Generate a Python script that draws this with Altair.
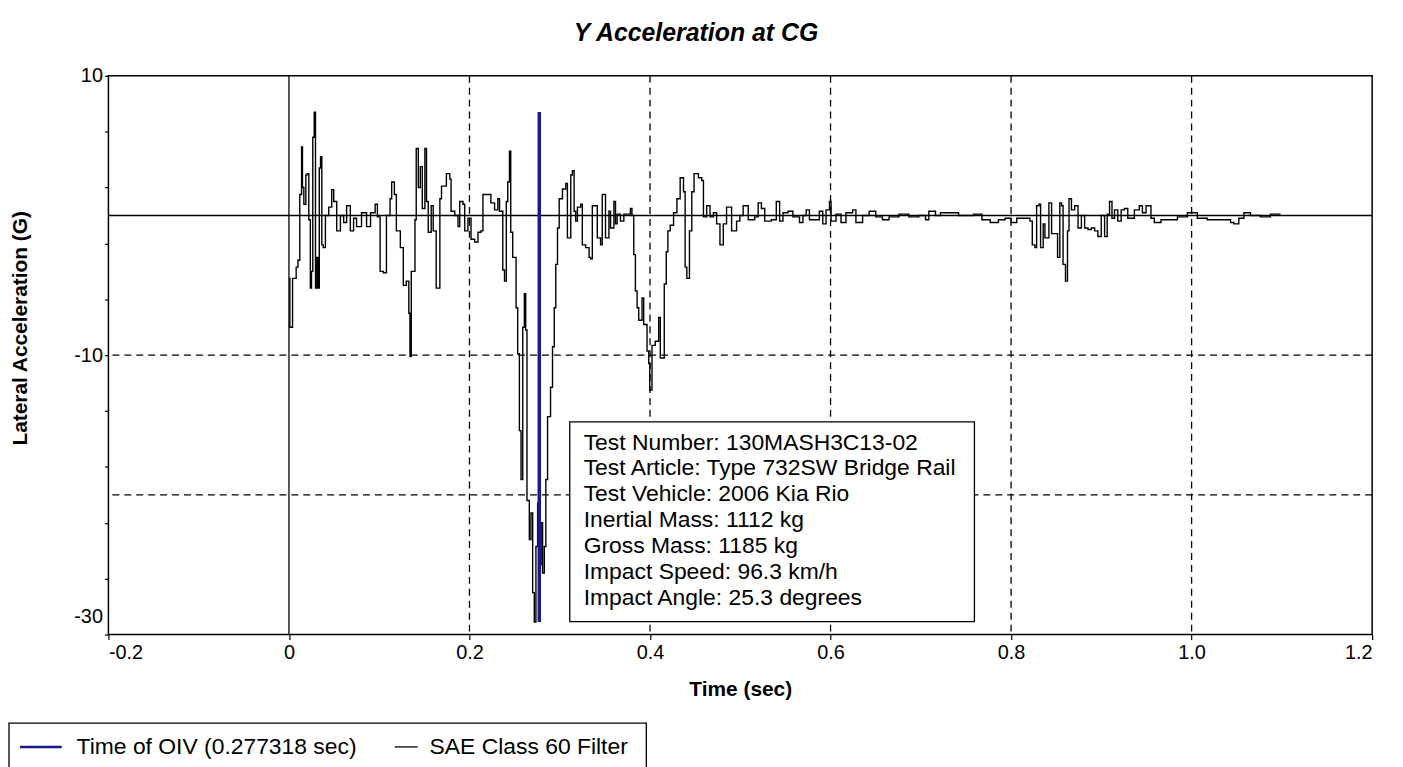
import altair as alt
import pandas as pd

# ---- data ----
time_s = [
    0.000, 0.001, 0.003, 0.004, 0.008, 0.010, 0.012, 0.014, 0.015, 0.0165,
    0.0187, 0.020, 0.022, 0.0237, 0.025, 0.0264, 0.028, 0.0294, 0.031, 0.0325,
    0.0336, 0.035, 0.0364, 0.038, 0.0404, 0.0441, 0.0474, 0.0496, 0.0529, 0.057,
    0.0606, 0.0639, 0.068, 0.0716, 0.0749, 0.0804, 0.086, 0.0904, 0.0955, 0.098,
    0.101, 0.1047, 0.108, 0.112, 0.1138, 0.1168, 0.119, 0.1234, 0.1267, 0.130,
    0.1328, 0.1341, 0.1355, 0.1396, 0.141, 0.1433, 0.1455, 0.1477, 0.1506, 0.1524,
    0.1543, 0.1576, 0.1598, 0.1631, 0.1672, 0.169, 0.1744, 0.1782, 0.1796, 0.1837,
    0.1873, 0.1892, 0.1928, 0.1947, 0.1983, 0.2017, 0.2057, 0.2094, 0.2127, 0.2149,
    0.2204, 0.2237, 0.2278, 0.2314, 0.2333, 0.2369, 0.2388, 0.2408, 0.2424, 0.2443,
    0.2457, 0.2479, 0.2498, 0.2516, 0.2534, 0.2553, 0.2571, 0.259, 0.2608, 0.2623,
    0.2637, 0.2663, 0.2681, 0.270, 0.2718, 0.2736, 0.2755, 0.2777, 0.2793, 0.281,
    0.2829, 0.2846, 0.2865, 0.2898, 0.292, 0.2939, 0.2956, 0.2975, 0.2994, 0.303,
    0.3067, 0.3085, 0.3122, 0.314, 0.3159, 0.3177, 0.3196, 0.3232, 0.325, 0.3287,
    0.3325, 0.3342, 0.3361, 0.3397, 0.3416, 0.3452, 0.3471, 0.349, 0.3507, 0.3545,
    0.3563, 0.360, 0.3618, 0.3636, 0.3673, 0.371, 0.3747, 0.3783, 0.380, 0.382,
    0.3838, 0.3857, 0.3875, 0.3912, 0.393, 0.3967, 0.3986, 0.3997, 0.4022, 0.4058,
    0.4096, 0.4114, 0.4143, 0.4158, 0.418, 0.4198, 0.4224, 0.4261, 0.4298, 0.4334,
    0.4371, 0.4389, 0.4408, 0.4437, 0.4463, 0.4488, 0.4536, 0.4573, 0.4592, 0.4628,
    0.4665, 0.4702, 0.4738, 0.4775, 0.4812, 0.4848, 0.4904, 0.4959, 0.4995, 0.5032,
    0.5088, 0.516, 0.5198, 0.5234, 0.5271, 0.5344, 0.5399, 0.5436, 0.5473, 0.5528,
    0.5583, 0.5656, 0.5694, 0.573, 0.5766, 0.5876, 0.5914, 0.595, 0.5988, 0.6006,
    0.6061, 0.6116, 0.6171, 0.6245, 0.6281, 0.6355, 0.6428, 0.6501, 0.6575, 0.6648,
    0.6758, 0.6868, 0.6979, 0.7052, 0.7089, 0.7163, 0.7218, 0.7309, 0.7419, 0.7584,
    0.7677, 0.7769, 0.786, 0.7934, 0.800, 0.8063, 0.8154, 0.8209, 0.8235, 0.8264,
    0.8283, 0.8309, 0.8327, 0.8356, 0.8375, 0.8419, 0.8449, 0.8485, 0.8515, 0.854,
    0.8559, 0.8576, 0.8603, 0.8625, 0.8642, 0.8669, 0.8705, 0.8742, 0.8779, 0.8815,
    0.8852, 0.8889, 0.8926, 0.8962, 0.8999, 0.9036, 0.9065, 0.9091, 0.9118, 0.9146,
    0.9182, 0.922, 0.9256, 0.9293, 0.9366, 0.9421, 0.9455, 0.9495, 0.955, 0.9587,
    0.9661, 0.9733, 0.9843, 0.9954, 1.0009, 1.0064, 1.0174, 1.0284, 1.0432, 1.0468,
    1.0523, 1.0579, 1.0652, 1.0762, 1.0873, 1.0946, 1.0986,
]
accel_g = [
    -4.5, -8.0, -8.0, -4.5, -3.7, -3.2, 1.5, 4.9, 2.0, 0.8,
    2.9, 3.0, -0.3, -5.2, -4.0, 5.6, 7.4, -5.2, -3.0, -5.2,
    3.4, 4.2, -2.1, -2.3, 0.0, 0.6, 1.85, 1.0, -1.1, 0.0,
    -0.5, 0.7, -1.1, -0.2, -0.8, 0.2, -0.8, 0.2, 0.8, -0.1,
    -4.0, -4.1, 0.0, 1.2, 2.4, 1.5, -1.1, -2.3, -5.0, -4.7,
    -7.0, -10.1, -4.0, -0.3, 4.8, 2.0, 3.5, 0.5, 4.8, 1.0,
    -1.2, 0.7, -1.1, -5.2, 1.2, 2.1, 3.0, 2.6, 0.3, 0.0,
    -0.8, 1.0, 0.8, -1.1, -0.2, -1.7, -1.9, -1.2, -1.1, 1.5,
    1.5, 0.9, 0.4, 1.2, 0.3, -3.9, -4.7, 1.0, 2.4, 4.6,
    -1.2, -3.0, -3.0, -6.6, -9.9, -15.4, -18.9, -8.0, -5.6, -8.2,
    -20.4, -23.2, -21.3, -27.0, -29.1, -23.7, -20.6, -25.0, -22.0, -25.6,
    -23.7, -18.9, -14.4, -12.3, -9.4, -6.6, -3.5, -0.9, 1.2, 1.9,
    2.3, -1.6, 2.9, 3.2, 0.3, -0.4, 0.6, 0.8, -2.1, -2.3,
    -3.0, -3.1, 0.7, 0.7, -1.6, -2.1, 1.5, 1.5, -1.6, 0.3,
    -0.9, 1.0, -0.6, 0.1, -0.4, 0.1, 0.1, 0.5, 0.0, -2.8,
    -5.4, -6.6, -7.5, -5.9, -7.8, -9.7, -10.6, -12.5, -9.3, -9.0,
    -7.3, -10.2, -10.2, -4.9, -2.6, -1.1, -0.7, 0.2, 1.2, 2.7,
    1.7, -3.7, -4.5, -1.1, 1.7, 3.0, 2.7, 2.5, -0.1, 0.7,
    -0.1, 0.2, -0.6, -2.1, -0.6, 0.6, -1.1, -0.4, 0.0, 0.7,
    -0.3, -0.1, 0.9, 0.5, -0.4, -0.3, 1.0, -0.4, 0.2, 0.3,
    -0.1, -0.5, 0.0, 0.4, -0.3, 0.3, -0.6, 0.4, 1.0, -0.4,
    0.1, -0.5, 0.2, 0.4, -0.5, 0.0, 0.3, -0.1, -0.3, -0.1,
    0.1, -0.1, 0.0, -0.3, 0.3, 0.0, 0.2, 0.2, 0.0, 0.1,
    -0.3, -0.5, -0.3, -0.2, -0.5, -0.2, -0.2, -0.4, -2.1, -2.3,
    0.7, 0.8, -2.3, -0.6, -1.6, 0.9, -1.3, -1.3, -3.0, 0.9,
    0.7, -3.5, -4.7, -1.1, 1.2, 0.4, 0.7, -0.9, 0.0, -0.9,
    -1.0, -0.9, -1.1, -1.5, 0.0, -1.5, 0.1, 1.0, -0.2, 0.4,
    -0.4, 0.4, 0.5, -0.2, 0.4, 0.7, 0.2, 0.7, -0.2, -0.5,
    -0.3, -0.3, -0.1, 0.2, 0.2, -0.2, -0.3, -0.3, -0.5, -0.6,
    -0.2, 0.2, 0.0, -0.1, 0.1, 0.1, 0.1,
]
oiv_time = 0.277318
v_grid = [0.2, 0.4, 0.6, 0.8, 1.0]
h_grid = [-10, -20]
x_ticks = [-0.2, 0.0, 0.2, 0.4, 0.6, 0.8, 1.0, 1.2]
y_ticks = list(range(-30, 11, 2))
info_lines = [
    "Test Number: 130MASH3C13-02",
    "Test Article: Type 732SW Bridge Rail",
    "Test Vehicle: 2006 Kia Rio",
    "Inertial Mass: 1112 kg",
    "Gross Mass: 1185 kg",
    "Impact Speed: 96.3 km/h",
    "Impact Angle: 25.3 degrees",
]
legend_labels = ["Time of OIV (0.277318 sec)", "SAE Class 60 Filter"]

FONT = "Liberation Sans"
W, H = 1271, 562
NAVY = "#1a1a8e"

df = pd.DataFrame({"t": time_s, "g": accel_g})

xscale = alt.Scale(domain=[-0.2, 1.2], nice=False, zero=False)
yscale = alt.Scale(domain=[-30, 10], nice=False, zero=False)

x_axis = alt.Axis(
    values=x_ticks, grid=False, domain=False, title=None,
    labelExpr="datum.value == 0 ? '0' : (datum.value < 0 ? '-' + format(-datum.value, '.1f') : format(datum.value, '.1f'))",
    labelFont=FONT, labelFontSize=20, labelColor="black", labelPadding=3,
    tickColor="black", tickSize=5, tickWidth=1.2,
)
y_axis = alt.Axis(
    values=y_ticks, grid=False, domain=False, title=None,
    labelExpr="datum.value % 10 == 0 ? (datum.value < 0 ? '-' + format(-datum.value, 'd') : format(datum.value, 'd')) : ''",
    labelFont=FONT, labelFontSize=20, labelColor="black", labelPadding=2,
    labelOffset={"condition": {"test": "datum.value == -30", "value": -18}, "value": 0},
    tickColor="black", tickSize=4, tickWidth=1.2,
)

line = alt.Chart(df).mark_line(
    color="black", strokeWidth=1.4, interpolate="step-after"
).encode(
    x=alt.X("t:Q", scale=xscale, axis=x_axis),
    y=alt.Y("g:Q", scale=yscale, axis=y_axis),
)

vgrid = alt.Chart(pd.DataFrame({"x": v_grid})).mark_rule(
    color="black", strokeWidth=1.3, strokeDash=[7, 5]
).encode(x=alt.X("x:Q", scale=xscale))
hgrid = alt.Chart(pd.DataFrame({"y": h_grid})).mark_rule(
    color="black", strokeWidth=1.3, strokeDash=[7, 5]
).encode(y=alt.Y("y:Q", scale=yscale))
zero_x = alt.Chart(pd.DataFrame({"x": [0.0]})).mark_rule(
    color="black", strokeWidth=1.3
).encode(x=alt.X("x:Q", scale=xscale))
zero_y = alt.Chart(pd.DataFrame({"y": [0.0]})).mark_rule(
    color="black", strokeWidth=1.3
).encode(y=alt.Y("y:Q", scale=yscale))

oiv_df = pd.DataFrame({"t": [oiv_time], "top": [max(accel_g)], "bot": [min(accel_g)]})
oiv = alt.Chart(oiv_df).mark_rule(color=NAVY, strokeWidth=3.5).encode(
    x=alt.X("t:Q", scale=xscale),
    y=alt.Y("top:Q", scale=yscale),
    y2="bot:Q",
)

# info box (pixel positions relative to the plot area)
box = alt.Chart(pd.DataFrame({"a": [0]})).mark_rect(
    fill="white", stroke="black", strokeWidth=1.3
).encode(x=alt.value(464), x2=alt.value(871), y=alt.value(348), y2=alt.value(549))
info_df = pd.DataFrame({"txt": info_lines, "py": [369 + 26 * i for i in range(len(info_lines))]})
info = alt.Chart(info_df).mark_text(
    align="left", baseline="middle", font=FONT, fontSize=23, color="black"
).encode(x=alt.value(478), y=alt.Y("py:Q", scale=None), text="txt:N")

title = alt.Chart(pd.DataFrame({"txt": ["Y Acceleration at CG"]})).mark_text(
    align="center", baseline="middle", font=FONT, fontSize=25,
    fontWeight="bold", fontStyle="italic", color="black"
).encode(x=alt.value(591), y=alt.value(-43), text="txt:N")

xtitle = alt.Chart(pd.DataFrame({"txt": ["Time (sec)"]})).mark_text(
    align="center", baseline="middle", font=FONT, fontSize=21,
    fontWeight="bold", color="black"
).encode(x=alt.value(636), y=alt.value(618), text="txt:N")

ytitle = alt.Chart(pd.DataFrame({"txt": ["Lateral Acceleration (G)"]})).mark_text(
    align="center", baseline="middle", font=FONT, fontSize=21,
    fontWeight="bold", color="black", angle=270
).encode(x=alt.value(-88), y=alt.value(254), text="txt:N")

# legend at the bottom
leg_box = alt.Chart(pd.DataFrame({"a": [0]})).mark_rect(
    fill="white", stroke="black", strokeWidth=1.3
).encode(x=alt.value(-100), x2=alt.value(541), y=alt.value(651), y2=alt.value(720))
leg_lines = alt.Chart(pd.DataFrame({
    "x0": [-89, 288], "x1": [-47, 311], "c": [NAVY, "black"], "w": [2.5, 1.3]
})).mark_rule().encode(
    x=alt.X("x0:Q", scale=None), x2="x1:Q",
    y=alt.value(675),
    color=alt.Color("c:N", scale=None),
    strokeWidth=alt.StrokeWidth("w:Q", scale=None),
)
leg_text = alt.Chart(pd.DataFrame({"txt": legend_labels, "px": [-32, 323]})).mark_text(
    align="left", baseline="middle", font=FONT, fontSize=23, color="black"
).encode(x=alt.X("px:Q", scale=None), y=alt.value(675), text="txt:N")

chart = alt.layer(
    vgrid, hgrid, zero_x, zero_y, line, oiv, box, info,
    title, xtitle, ytitle, leg_box, leg_lines, leg_text
).properties(
    width=W, height=H,
    background="white",
    autosize=alt.AutoSizeParams(type="none"),
    padding={"left": 101, "top": 66, "right": 23, "bottom": 131},
).configure_view(
    stroke="black", strokeWidth=1.5
)

chart.save("out.html", embed_options={"renderer": "svg", "actions": False})
